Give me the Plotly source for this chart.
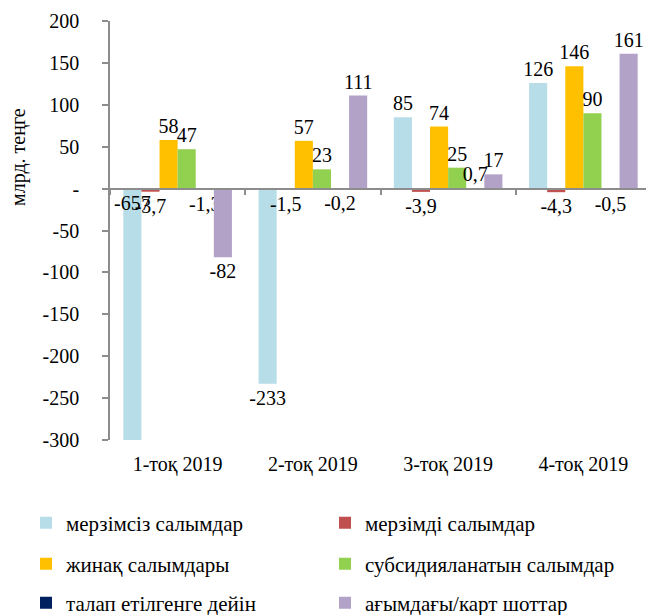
import plotly.graph_objects as go

categories = ["1-тоқ 2019", "2-тоқ 2019", "3-тоқ 2019", "4-тоқ 2019"]
series_names = [
    "мерзімсіз салымдар",
    "мерзімді салымдар",
    "жинақ салымдары",
    "субсидияланатын салымдар",
    "талап етілгенге дейін",
    "ағымдағы/карт шоттар",
]
merzimsiz = [-657, -233, 85, 126]
merzimdi = [-3.7, -1.5, -3.9, -4.3]
zhinaq = [58, 57, 74, 146]
subsid = [47, 23, 25, 90]
talap = [-1.3, -0.2, 0.7, -0.5]
agymdagy = [-82, 111, 17, 161]
colors = ["#B7DEE8", "#C0504D", "#FFC000", "#92D050", "#002060", "#B3A2C7"]
ytickvals = [200, 150, 100, 50, 0, -50, -100, -150, -200, -250, -300]
yticktext = ["200", "150", "100", "50", "-", "-50", "-100", "-150", "-200", "-250", "-300"]

all_values = [merzimsiz, merzimdi, zhinaq, subsid, talap, agymdagy]

FONT = "Liberation Serif, Times New Roman, serif"
GRAY = "#8c8c8c"
W, H = 646, 615


def fmt(v):
    return ("%g" % v).replace(".", ",")


fig = go.Figure()
# legend positions in container pixels (left edge, row centre)
legend_px = [
    (26, 523), (325, 523),
    (26, 564), (325, 564),
    (26, 603), (325, 603),
]
for i, (name, vals, col) in enumerate(zip(series_names, all_values, colors)):
    if i == 0:
        tpos = ["inside"] + ["outside"] * (len(vals) - 1)
    else:
        tpos = "outside"
    fig.add_trace(go.Bar(
        x=categories, y=vals, name=name,
        marker=dict(color=col, line=dict(width=0)),
        text=[fmt(v) for v in vals],
        textposition=tpos,
        insidetextanchor="start",
        textangle=0,
        constraintext="none",
        cliponaxis=True,
        textfont=dict(family=FONT, size=20, color="black"),
        insidetextfont=dict(family=FONT, size=20, color="black"),
        outsidetextfont=dict(family=FONT, size=20, color="black"),
        legend="legend" if i == 0 else "legend%d" % (i + 1),
        hoverinfo="skip",
    ))

# invisible helper trace for the zero-line category axis
fig.add_trace(go.Scatter(
    x=categories, y=[0] * len(categories), xaxis="x2", yaxis="y",
    mode="markers", marker=dict(opacity=0), showlegend=False, hoverinfo="skip",
))

xr = [-0.5, 3.463]
layout = dict(
    width=W, height=H,
    margin=dict(l=110, r=0, t=21, b=175, autoexpand=False),
    paper_bgcolor="white", plot_bgcolor="white",
    barmode="group", bargap=0.197, bargroupgap=0,
    font=dict(family=FONT, size=20, color="black"),
    xaxis=dict(
        type="category", categoryorder="array", categoryarray=categories,
        range=xr, showline=False, ticks="", showgrid=False, zeroline=False,
        tickfont=dict(family=FONT, size=20, color="black"),
        ticklabelstandoff=10, automargin=False,
    ),
    xaxis2=dict(
        type="category", categoryorder="array", categoryarray=categories,
        overlaying="x", anchor="free", position=0.6, range=xr,
        showline=True, linecolor=GRAY, linewidth=1.5,
        ticks="outside", tickson="boundaries", ticklen=6, tickcolor=GRAY, tickwidth=1.5,
        showticklabels=False, showgrid=False, zeroline=False, automargin=False,
    ),
    yaxis=dict(
        range=[-300, 200], tickvals=ytickvals, ticktext=yticktext,
        showline=True, linecolor=GRAY, linewidth=1.5,
        ticks="outside", ticklen=6, tickcolor=GRAY, tickwidth=1.5,
        showgrid=False, zeroline=False,
        tickfont=dict(family=FONT, size=20, color="black"),
        ticklabelstandoff=19, automargin=False,
    ),
    annotations=[dict(
        text="млрд. теңге", xref="paper", yref="paper",
        x=-0.172, y=0.675, textangle=-90, showarrow=False,
        font=dict(family=FONT, size=20, color="black"),
        xanchor="center", yanchor="middle",
    )],
)
for i, (px, py) in enumerate(legend_px):
    key = "legend" if i == 0 else "legend%d" % (i + 1)
    layout[key] = dict(
        xref="container", yref="container",
        x=px / W, y=1 - py / H, xanchor="left", yanchor="middle",
        orientation="h", bgcolor="rgba(0,0,0,0)",
        font=dict(family=FONT, size=21, color="black"),
        borderwidth=0,
    )
fig.update_layout(**layout)

fig.write_html(
    "out.html",
    config={"displayModeBar": False},
    post_script="document.body.style.margin='0';document.body.style.padding='0';",
)
